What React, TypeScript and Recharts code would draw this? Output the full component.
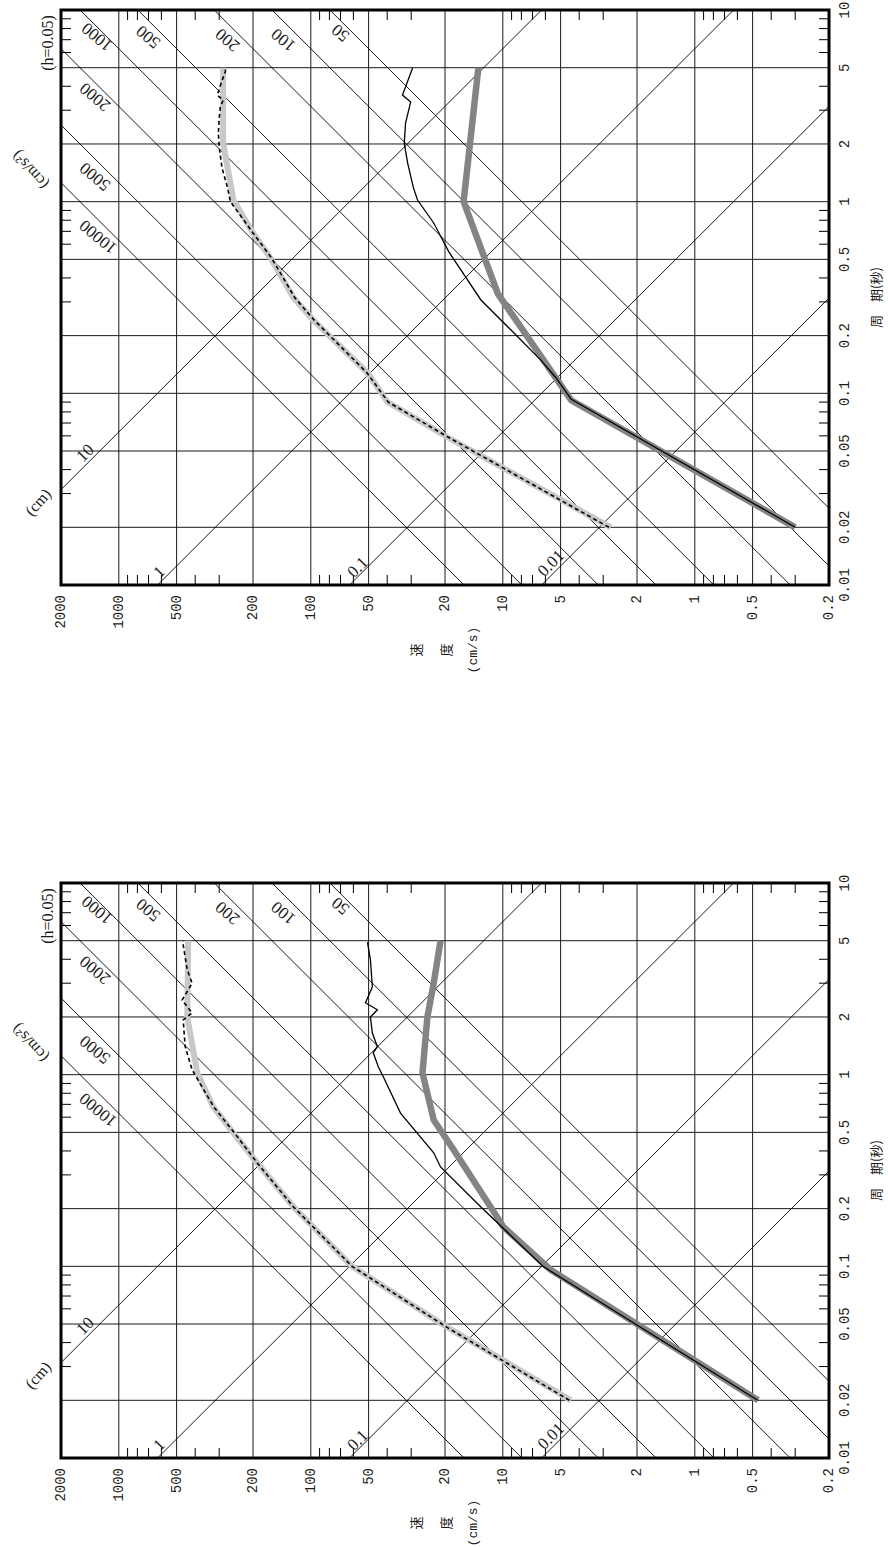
import React from 'react';
import {
  LineChart,
  Line,
  XAxis,
  YAxis,
  CartesianGrid,
  ReferenceLine,
  ReferenceArea,
  ReferenceDot,
} from 'recharts';

// ---------- axes ----------
const velocityTicks = [2000, 1000, 500, 200, 100, 50, 20, 10, 5, 2, 1, 0.5, 0.2];
const periodTicks = [0.01, 0.02, 0.05, 0.1, 0.2, 0.5, 1, 2, 5, 10];
const velocityMinorTicks = [900, 800, 700, 600, 400, 300, 90, 80, 70, 60, 40, 30, 9, 8, 7, 6, 4, 3, 0.9, 0.8, 0.7, 0.6, 0.4, 0.3];
const periodMinorTicks = [0.03, 0.04, 0.06, 0.07, 0.08, 0.09, 0.3, 0.4, 0.6, 0.7, 0.8, 0.9, 3, 4, 6, 7, 8, 9];

// tripartite grid: displacement (cm) and acceleration (cm/s2) lines
const displacementValues = [0.01, 0.1, 1, 10];
const accelerationValues = [50, 100, 200, 500, 1000, 2000, 5000, 10000];

// labels of the diagonal lines (velocity, period of the label centre)
const accLabelText = ['1000', '500', '200', '100', '50', '2000', '5000', '10000'];
const accLabelVel = [1298, 703, 272, 139, 70, 1330, 1330, 1282];
const accLabelPer = [7.23, 7.23, 6.98, 6.98, 7.58, 3.52, 1.35, 0.655];

const dispLabelText = ['10', '1', '0.1', '0.01'];
const dispLabelVel = [1499, 617, 57.1, 5.62];
const dispLabelPer = [0.0489, 0.0117, 0.0124, 0.013];

const unitLabelText = ['(h=0.05)', '(cm/s²)', '(cm)'];
const unitLabelVel = [2338, 2902, 2636];
const unitLabelPer = [6.73, 1.46, 0.0271];
const unitLabelAngle = [-90, 228, -48];

// ---------- top chart series ----------
const topLightPeriod = [0.02, 0.059, 0.09, 0.128, 0.241, 0.315, 0.508, 0.687, 1.02, 2.02, 5.0];
const topLightVel = [2.74, 19.4, 39.8, 50.7, 97, 123, 162, 200, 253, 286, 286];

const topDashPeriod = [0.02, 0.059, 0.09, 0.128, 0.241, 0.315, 0.508, 0.687, 1.0, 1.19, 1.5, 1.93, 2.28, 2.7, 3.12, 3.39, 3.6, 4.2, 4.75, 5.0];
const topDashVel = [2.8, 19.2, 39.5, 51, 96, 121, 160, 200, 262, 272, 290, 300, 303, 300, 296, 286, 307, 292, 279, 277];

const topDarkPeriod = [0.02, 0.092, 0.33, 1.0, 5.0];
const topDarkVel = [0.3, 4.4, 10.6, 16, 13.4];

const topSolidPeriod = [0.02, 0.093, 0.121, 0.149, 0.207, 0.307, 0.547, 0.774, 1.02, 1.18, 1.59, 2.02, 2.57, 3.31, 3.6, 4.98];
const topSolidVel = [0.3, 4.4, 5.3, 6.34, 8.77, 13.0, 19.1, 22.9, 27.8, 29.2, 31.3, 32.6, 32.1, 30.2, 33.3, 29.5];

// ---------- bottom chart series ----------
const botLightPeriod = [0.02, 0.048, 0.1, 0.204, 0.346, 0.497, 0.678, 1.02, 2.0, 5.0];
const botLightVel = [4.42, 19.4, 61, 123, 190, 253, 322, 390, 440, 435];

const botDashPeriod = [0.02, 0.048, 0.1, 0.204, 0.346, 0.497, 0.678, 1.06, 1.4, 1.93, 2.1, 2.45, 3.0, 3.52, 4.75, 5.0];
const botDashVel = [4.5, 19.5, 61, 123, 190, 250, 320, 415, 451, 462, 415, 468, 415, 440, 462, 462];

const botDarkPeriod = [0.02, 0.0957, 0.16, 0.405, 0.58, 1.02, 2.0, 3.0, 5.0];
const botDarkVel = [0.468, 5.62, 9.9, 18.0, 22.9, 26.2, 24.7, 22.9, 21.1];

const botSolidPeriod = [0.02, 0.0993, 0.204, 0.33, 0.391, 0.63, 0.97, 1.1, 1.3, 1.4, 1.65, 2.0, 2.18, 2.37, 2.87, 3.97, 4.92];
const botSolidVel = [0.47, 6.12, 13.0, 21.1, 22.9, 34.1, 41.8, 44.5, 47.3, 45, 47.8, 48.9, 45.0, 51.9, 47.8, 48.9, 50.7];

// ---------- styles ----------
const MONO = '"Liberation Mono", "DejaVu Sans Mono", monospace';
const SERIF = '"Liberation Serif", "DejaVu Serif", serif';
const CJK = '"Noto Sans CJK JP", "Noto Sans CJK SC", sans-serif';
const INK = '#1a1a1a';
const V_MIN = 0.2;
const V_MAX = 2000;
const T_MIN = 0.01;
const T_MAX = 10;

const toPoints = (periods: number[], vels: number[]) =>
  periods.map((t, i) => ({ t, v: vels[i] }));

const fmt = (v: number) => String(v);

function VelocityTick(props: any) {
  const { x, y, payload } = props;
  return (
    <text
      x={x}
      y={y}
      transform={`rotate(-90 ${x} ${y})`}
      textAnchor="end"
      dominantBaseline="central"
      fontFamily={MONO}
      fontSize={14}
      fill={INK}
    >
      {fmt(payload.value)}
    </text>
  );
}

function PeriodTick(props: any) {
  const { x, y, payload } = props;
  const cx = x + 8;
  return (
    <text
      x={cx}
      y={y}
      transform={`rotate(-90 ${cx} ${y})`}
      textAnchor="middle"
      dominantBaseline="central"
      fontFamily={MONO}
      fontSize={14}
      fill={INK}
    >
      {fmt(payload.value)}
    </text>
  );
}

function VelocityTitle(props: any) {
  const vb = props.viewBox || { x: 61, y: 585, width: 768, height: 60 };
  const cx = vb.x + vb.width / 2;
  const cy = vb.y + 65;
  const lines = [
    { text: '速', dx: -30, font: CJK },
    { text: '度', dx: 0, font: CJK },
    { text: '(cm/s)', dx: 28, font: MONO },
  ];
  return (
    <g>
      {lines.map((l) => (
        <text
          key={l.text}
          x={cx + l.dx}
          y={cy}
          transform={`rotate(-90 ${cx + l.dx} ${cy})`}
          textAnchor="middle"
          dominantBaseline="central"
          fontFamily={l.font}
          fontSize={13}
          fill={INK}
        >
          {l.text}
        </text>
      ))}
    </g>
  );
}

function PeriodTitle(props: any) {
  const vb = props.viewBox || { x: 829, y: 10, width: 59, height: 575 };
  const x = vb.x + 46;
  const y = vb.y + vb.height / 2;
  return (
    <text
      x={x}
      y={y}
      transform={`rotate(-90 ${x} ${y})`}
      textAnchor="middle"
      dominantBaseline="central"
      fontFamily={CJK}
      fontSize={13}
      fill={INK}
    >
      周　期(秒)
    </text>
  );
}

const textShape = (text: string, angle: number, font: string, size: number) => (p: any) => (
  <text
    x={p.cx}
    y={p.cy}
    transform={`rotate(${angle} ${p.cx} ${p.cy})`}
    textAnchor="middle"
    dominantBaseline="central"
    fontFamily={font}
    fontSize={size}
    fill={INK}
  >
    {text}
  </text>
);

// inward tick marks on the frame: dx, dy give the inward direction
const tickShape = (dx: number, dy: number) => (p: any) => (
  <line x1={p.cx} y1={p.cy} x2={p.cx + dx * 10} y2={p.cy + dy * 10} stroke="#000" strokeWidth={1} />
);

type PanelProps = {
  top: number;
  light: { t: number; v: number }[];
  dash: { t: number; v: number }[];
  dark: { t: number; v: number }[];
  solid: { t: number; v: number }[];
};

const TWO_PI = 2 * Math.PI;

function SpectrumPanel({ top, light, dash, dark, solid }: PanelProps) {
  return (
    <div style={{ position: 'absolute', left: 0, top, width: 888, height: 674 }}>
      <LineChart width={888} height={674} margin={{ top: 10, right: 0, bottom: 29, left: 61 }}>
        <CartesianGrid stroke={INK} strokeWidth={1} />
        <XAxis
          dataKey="v"
          type="number"
          scale="log"
          domain={[V_MIN, V_MAX]}
          reversed
          allowDataOverflow
          ticks={velocityTicks}
          interval={0}
          height={60}
          tickSize={0}
          tickMargin={10}
          axisLine={false}
          tickLine={false}
          tick={<VelocityTick />}
          label={<VelocityTitle />}
        />
        <YAxis
          type="number"
          scale="log"
          domain={[T_MIN, T_MAX]}
          allowDataOverflow
          orientation="right"
          ticks={periodTicks}
          interval={0}
          width={59}
          tickSize={0}
          tickMargin={8}
          axisLine={false}
          tickLine={false}
          tick={<PeriodTick />}
          label={<PeriodTitle />}
        />

        {displacementValues.map((d) => (
          <ReferenceLine
            key={`d${d}`}
            segment={[
              { x: (TWO_PI * d) / 0.001, y: 0.001 },
              { x: (TWO_PI * d) / 100, y: 100 },
            ]}
            ifOverflow="hidden"
            stroke="#000"
            strokeWidth={0.9}
          />
        ))}
        {accelerationValues.map((a) => (
          <ReferenceLine
            key={`a${a}`}
            segment={[
              { x: (a * 0.001) / TWO_PI, y: 0.001 },
              { x: (a * 100) / TWO_PI, y: 100 },
            ]}
            ifOverflow="hidden"
            stroke="#000"
            strokeWidth={0.9}
          />
        ))}

        {velocityMinorTicks.map((v) => (
          <ReferenceDot key={`mt${v}`} x={v} y={T_MAX} r={1} ifOverflow="visible" shape={tickShape(0, 1)} />
        ))}
        {velocityMinorTicks.map((v) => (
          <ReferenceDot key={`mb${v}`} x={v} y={T_MIN} r={1} ifOverflow="visible" shape={tickShape(0, -1)} />
        ))}
        {periodMinorTicks.map((t) => (
          <ReferenceDot key={`ml${t}`} x={V_MAX} y={t} r={1} ifOverflow="visible" shape={tickShape(1, 0)} />
        ))}
        {periodMinorTicks.map((t) => (
          <ReferenceDot key={`mr${t}`} x={V_MIN} y={t} r={1} ifOverflow="visible" shape={tickShape(-1, 0)} />
        ))}

        {accLabelText.map((txt, i) => (
          <ReferenceDot
            key={`al${txt}`}
            x={accLabelVel[i]}
            y={accLabelPer[i]}
            r={1}
            ifOverflow="visible"
            shape={textShape(txt, 220, SERIF, 17)}
          />
        ))}
        {dispLabelText.map((txt, i) => (
          <ReferenceDot
            key={`dl${txt}`}
            x={dispLabelVel[i]}
            y={dispLabelPer[i]}
            r={1}
            ifOverflow="visible"
            shape={textShape(txt, -45, SERIF, 17)}
          />
        ))}
        {unitLabelText.map((txt, i) => (
          <ReferenceDot
            key={`ul${txt}`}
            x={unitLabelVel[i]}
            y={unitLabelPer[i]}
            r={1}
            ifOverflow="visible"
            shape={textShape(txt, unitLabelAngle[i], SERIF, 16)}
          />
        ))}

        <Line data={light} dataKey="t" type="linear" stroke="#c8c8c8" strokeWidth={6} dot={false} isAnimationActive={false} />
        <Line data={dark} dataKey="t" type="linear" stroke="#848484" strokeWidth={6.5} dot={false} isAnimationActive={false} />
        <Line data={dash} dataKey="t" type="linear" stroke="#000" strokeWidth={1.6} strokeDasharray="4 3" dot={false} isAnimationActive={false} />
        <Line data={solid} dataKey="t" type="linear" stroke="#000" strokeWidth={1.3} dot={false} isAnimationActive={false} />

        <ReferenceArea x1={V_MIN} x2={V_MAX} y1={T_MIN} y2={T_MAX} fill="none" stroke="#000" strokeWidth={3} ifOverflow="visible" />
      </LineChart>
    </div>
  );
}

export default function App() {
  return (
    <div style={{ position: 'absolute', left: 0, top: 0, width: 888, height: 1547, background: '#fff', overflow: 'hidden' }}>
      <SpectrumPanel
        top={0}
        light={toPoints(topLightPeriod, topLightVel)}
        dash={toPoints(topDashPeriod, topDashVel)}
        dark={toPoints(topDarkPeriod, topDarkVel)}
        solid={toPoints(topSolidPeriod, topSolidVel)}
      />
      <SpectrumPanel
        top={873}
        light={toPoints(botLightPeriod, botLightVel)}
        dash={toPoints(botDashPeriod, botDashVel)}
        dark={toPoints(botDarkPeriod, botDarkVel)}
        solid={toPoints(botSolidPeriod, botSolidVel)}
      />
    </div>
  );
}
